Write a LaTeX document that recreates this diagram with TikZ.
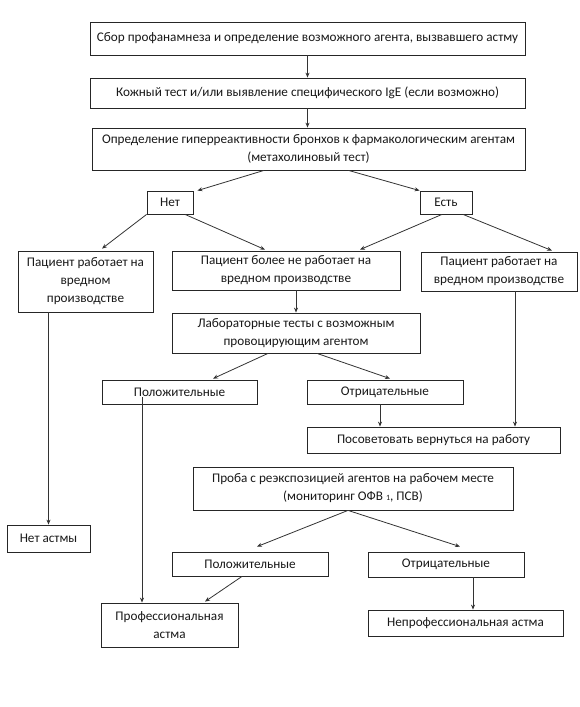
\documentclass[tikz,border=0pt]{standalone}
\usepackage{fontspec}
\setmainfont{Carlito}
\usetikzlibrary{arrows.meta}
\begin{document}
\begin{tikzpicture}[x=1pt,y=-1pt,
  box/.style={draw=black!85, line width=0.8pt, rectangle, inner sep=0pt, align=center,
    font=\fontsize{13.2}{18}\selectfont, text=black!90},
  arr/.style={draw=black!80, line width=0.8pt, -{Stealth[length=5pt,width=4pt]}}]
\useasboundingbox[fill=white] (0,0) rectangle (580,707);

\node[box, minimum width=435, minimum height=33] (b1) at (307.5,38.5) {Сбор профанамнеза и определение возможного агента, вызвавшего астму};
\node[box, minimum width=435, minimum height=30] (b2) at (307.5,93) {Кожный тест и/или выявление специфического IgE (если возможно)};
\node[box, minimum width=433, minimum height=42] (b3) at (308.5,149) {Определение гиперреактивности бронхов к фармакологическим агентам\\(метахолиновый тест)};
\node[box, minimum width=46, minimum height=23] (net) at (170,202.5) {Нет};
\node[box, minimum width=52, minimum height=23] (est) at (446,202.5) {Есть};
\node[box, minimum width=135, minimum height=61] (L) at (85.5,281.5) {Пациент работает на\\вредном\\производстве};
\node[box, minimum width=228, minimum height=39] (M) at (286,270.5) {Пациент более не работает на\\вредном производстве};
\node[box, minimum width=156, minimum height=39] (R) at (499,271.5) {Пациент работает на\\вредном производстве};
\node[box, minimum width=248, minimum height=40] (lab) at (296,333) {Лабораторные тесты с возможным\\провоцирующим агентом};
\node[box, minimum width=155, minimum height=24] (pos1) at (179.5,392) {Положительные};
\node[box, minimum width=156, minimum height=24] (neg1) at (385,392) {Отрицательные};
\node[box, minimum width=253, minimum height=26] (adv) at (433.5,440) {Посоветовать вернуться на работу};
\node[box, minimum width=320, minimum height=43] (probe) at (353,488.5) {Проба с реэкспозицией агентов на рабочем месте\\(мониторинг ОФВ {\footnotesize 1}, ПСВ)};
\node[box, minimum width=83, minimum height=27] (noast) at (48.5,538.5) {Нет астмы};
\node[box, minimum width=156, minimum height=24] (pos2) at (250,564) {Положительные};
\node[box, minimum width=156, minimum height=25] (neg2) at (446,564.5) {Отрицательные};
\node[box, minimum width=137, minimum height=44] (prof) at (169.5,625) {Профессиональная\\астма};
\node[box, minimum width=195, minimum height=26] (nonprof) at (465.5,623) {Непрофессиональная астма};

\draw[arr] (b1.south) -- (b2.north);
\draw[arr] (b2.south) -- (b3.north -| b2.south);
\draw[arr] ([xshift=-44.5]b3.south) -- ([xshift=4]net.north east);
\draw[arr] ([xshift=40]b3.south) -- (est.north west);
\draw[arr] (net.south west) -- ([xshift=16.5,yshift=2]L.north);
\draw[arr] ([xshift=15]net.south) -- ([xshift=-21,yshift=1]M.north);
\draw[arr] ([xshift=-4]est.south) -- ([xshift=74,yshift=1]M.north);
\draw[arr] ([xshift=17]est.south) -- ([xshift=53,yshift=1]R.north);
\draw[arr] (lab.north |- M.south) -- (lab.north);
\draw[arr] ([xshift=-28]lab.south) -- ([xshift=33.5,yshift=1]pos1.north);
\draw[arr] ([xshift=21]lab.south) -- ([xshift=5,yshift=1]neg1.north);
\draw[arr] ([xshift=-5]neg1.south) -- ([xshift=-5]neg1.south |- adv.north);
\draw[arr] ([xshift=16]R.south) -- ([xshift=16]R.south |- adv.north);
\draw[arr] ([xshift=-37.5,yshift=7]pos1.south) -- ([xshift=-27.5]prof.north);
\draw[arr] (noast.north |- L.south) -- (noast.north);
\draw[arr] ([xshift=-5]probe.south) -- ([xshift=7,yshift=5]pos2.north);
\draw[arr] ([xshift=-5]probe.south) -- ([xshift=14,yshift=5]neg2.north);
\draw[arr] ([xshift=-8]pos2.south) -- ([xshift=35.5,yshift=1]prof.north);
\draw[arr] ([xshift=27]neg2.south) -- ([xshift=27]neg2.south |- nonprof.north);
\end{tikzpicture}
\end{document}
